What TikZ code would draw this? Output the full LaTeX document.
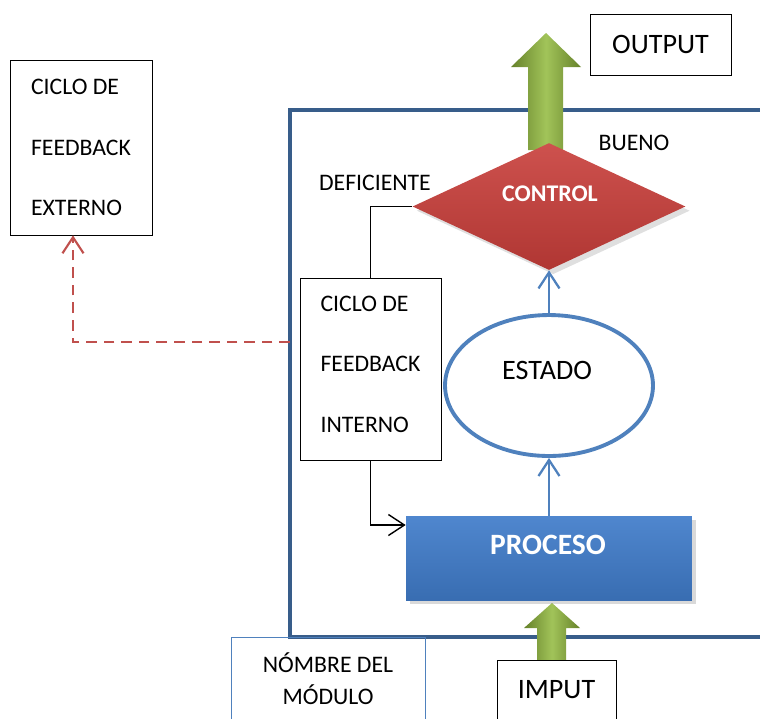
\documentclass[tikz,border=0pt]{standalone}
\usepackage{fontspec}
\setmainfont{Carlito}
\usepackage{xcolor}
\usepackage{tikz}
\usetikzlibrary{shapes, arrows.meta, positioning, calc, shadows}
\definecolor{framecolor}{RGB}{56, 93, 138}
\definecolor{estadoblue}{RGB}{79, 129, 189}
\definecolor{procesoblue}{RGB}{64, 124, 202}
\definecolor{controlred}{RGB}{200, 62, 58}
\definecolor{arrowgreen}{RGB}{145, 185, 60}
\definecolor{dashred}{RGB}{192, 80, 77}

\tikzset{
    plainbox/.style={draw, thin, fill=white, inner sep=0pt},
    normaltext/.style={font=\fontsize{13.5}{16}\selectfont},
    bigtext/.style={font=\fontsize{16}{19}\selectfont},
    loopbox/.style={plainbox, align=left, font=\fontsize{13.5}{34.5}\selectfont},
    namebox/.style={draw=estadoblue, thin, inner sep=0pt, align=center, font=\fontsize{13.5}{18.2}\selectfont},
    greenarrow/.style={left color=arrowgreen!70!black, right color=arrowgreen!70!black, middle color=arrowgreen!85!white},
    controlshape/.style={diamond, aspect=2, inner sep=0pt, minimum width=5.46cm, minimum height=2.54cm,
        top color=controlred!90!white, bottom color=controlred!88!black, drop shadow={opacity=0.25}},
    estadoshape/.style={ellipse, draw=estadoblue, line width=2.2pt, fill=white, minimum width=4.16cm, minimum height=2.82cm},
    procesoshape/.style={rectangle, inner sep=0pt, minimum width=5.72cm, minimum height=1.68cm,
        top color=procesoblue!92!white, bottom color=procesoblue!88!black, drop shadow={opacity=0.3}},
    whitebold/.style={white, font=\bfseries\fontsize{13.6}{16}\selectfont},
    barb/.style={-{Straight Barb[length=0.32cm, width=0.42cm]}},
    bluearrow/.style={barb, draw=estadoblue, line width=1.3pt},
    blackline/.style={draw=black, line width=0.8pt},
    dashline/.style={barb, draw=dashred, line width=1.2pt, dash pattern=on 6pt off 4pt}
}

\begin{document}
\begin{tikzpicture}[x=0.02cm, y=-0.02cm]
    \useasboundingbox (0,0) rectangle (760,718);

    % Module frame, open at the right
    \draw[framecolor, line width=2.3pt] (765,110) -- (290,110) -- (290,637) -- (765,637);
    \coordinate (frameleft) at (290,342);

    % Output and input arrows
    \shade[greenarrow] (528,150) -- (528,67) -- (511,67) -- (546,33) -- (581,67) -- (563,67) -- (563,150) -- cycle;
    \shade[greenarrow] (537,662) -- (537,628) -- (524,628) -- (552,603) -- (580,628) -- (566,628) -- (566,662) -- cycle;

    % Boxes
    \node[plainbox, bigtext, minimum width=2.82cm, minimum height=1.22cm] (output) at (660.5,44.5) {OUTPUT};
    \node[plainbox, bigtext, minimum width=2.38cm, minimum height=1.2cm] (imput) at (556.5,690) {IMPUT};
    \node[namebox, minimum width=3.88cm, minimum height=1.68cm] (nombre) at (328,679) {NÓMBRE DEL\\MÓDULO};
    \node[loopbox, minimum width=2.84cm, minimum height=3.5cm] (extloop) at (81,147.5) {CICLO DE\\FEEDBACK\\EXTERNO};
    \node[loopbox, minimum width=2.82cm, minimum height=3.64cm] (intloop) at (370.5,369) {CICLO DE\\FEEDBACK\\INTERNO\rule[-5.7pt]{0pt}{5.7pt}};

    % Control, state and process
    \node[controlshape] (control) at (549,206.5) {};
    \node[whitebold] (controltext) at (550,194) {CONTROL};
    \node[estadoshape] (estado) at (549,385.5) {};
    \node[bigtext] (estadotext) at (547,370) {ESTADO};
    \node[procesoshape] (proceso) at (549,558) {};
    \node[whitebold, font=\bfseries\fontsize{16.8}{19}\selectfont] (procesotext) at (548,545) {PROCESO};

    % Result labels
    \node[normaltext] (bueno) at (634,143) {BUENO};
    \node[normaltext] (deficiente) at (375,183) {DEFICIENTE};

    % Connectors
    \draw[bluearrow] (proceso) -- (estado);
    \draw[bluearrow] (estado) -- (control);
    \draw[blackline] (control.west) -| (intloop.north);
    \draw[blackline, barb] (intloop.south) |- ([yshift=0.66cm]proceso.west);
    \draw[dashline] (frameleft) -| ([xshift=-0.16cm]extloop.south);

\end{tikzpicture}
\end{document}
